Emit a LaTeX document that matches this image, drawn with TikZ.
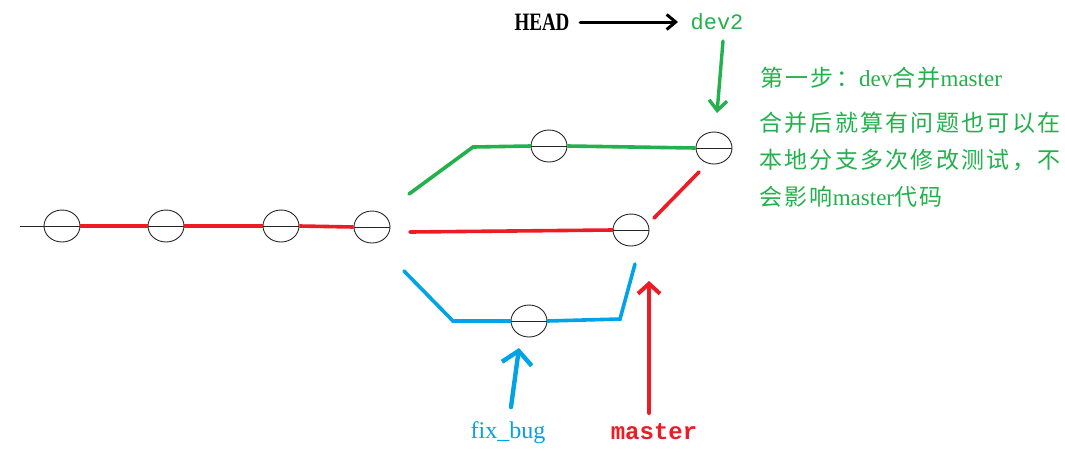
\documentclass[tikz,border=0pt]{standalone}
\usepackage{fontspec}
\setmainfont{Liberation Serif}
\newfontfamily\cjk[LetterSpace=10]{Noto Sans CJK SC}
\newfontfamily\monof{Liberation Mono}
\usetikzlibrary{arrows.meta,shapes.geometric}
\definecolor{pgreen}{RGB}{34,177,76}
\definecolor{pred}{RGB}{237,28,36}
\definecolor{pblue}{RGB}{0,162,232}
\begin{document}
\begin{tikzpicture}[x=1pt,y=-1pt,
  commit/.style={draw=black!85, line width=0.9pt, ellipse, minimum width=36pt, minimum height=32pt, inner sep=0pt},
  diam/.style={draw=black!85, line width=0.9pt},
  branch/.style={line width=3.6pt, line cap=round},
  ptr/.style={line cap=round},
  note/.style={anchor=west, text=pgreen, font=\fontsize{23}{26}\selectfont, inner sep=0pt}]
\useasboundingbox (0,0) rectangle (1065,456);
% main line
\node[commit] (n1) at (62,226) {};
\node[commit] (n2) at (166,226) {};
\node[commit] (n3) at (281,226) {};
\node[commit] (n4) at (372,227) {};
\coordinate (tail) at (20,226);
\draw[diam] (tail) -- (n1.west);
\draw[branch, pred, line cap=butt] (n1.east) -- (n2.west);
\draw[branch, pred, line cap=butt] (n2.east) -- (n3.west);
\draw[branch, pred, line cap=butt] (n3.east) -- (n4.west);
\foreach \n in {n1,n2,n3,n4} \draw[diam] (\n.west) -- (\n.east);
% green branch
\node[commit] (g1) at (549,146) {};
\node[commit] (g2) at (714,148) {};
\coordinate (gs) at (409,194);
\coordinate (gc) at (473,147);
\draw[branch, pgreen] (gs) -- (gc) -- (g1.west);
\draw[branch, pgreen, line cap=butt] (g1.east) -- (g2.west);
% red branch
\node[commit] (m) at (631,230) {};
\coordinate (rs) at (410,232);
\draw[branch, pred] (rs) -- (m.west);
\coordinate (ra) at (654,218);
\coordinate (rb) at (699,172);
\draw[branch, pred] (ra) -- (rb);
% blue branch
\node[commit] (b1) at (529,321) {};
\coordinate (bs) at (404,271);
\coordinate (bc) at (453,321);
\coordinate (bd) at (620,319);
\coordinate (be) at (635,264);
\draw[branch, pblue] (bs) -- (bc) -- (b1.west);
\draw[branch, pblue] (b1.east) -- (bd) -- (be);
\foreach \n in {g1,g2,m,b1} \draw[diam] (\n.west) -- (\n.east);
% labels
\node[font=\bfseries\fontsize{25}{25}\selectfont, xscale=0.76, inner sep=0pt] (head) at (542,22) {HEAD};
\node[font=\monof\fontsize{22}{22}\selectfont, text=pgreen, inner sep=0pt] (dev) at (717,22) {dev2};
\coordinate (ha) at (580,22);
\coordinate (hb) at (678,22);
\draw[ptr, line width=3pt, -{Straight Barb[length=9pt,width=15pt,line width=3pt]}] (ha) -- (hb);
\coordinate (gtail) at (723,41);
\coordinate (gtip) at (717,113);
\draw[ptr, pgreen, line width=3.4pt, -{Straight Barb[length=10pt,width=18pt,line width=3.4pt]}] (gtail) -- (gtip);
\node[font=\fontsize{24}{24}\selectfont, text=pblue, inner sep=0pt] (fix) at (508,433) {fix\_bug};
\node[font=\monof\bfseries\fontsize{24}{24}\selectfont, text=pred, inner sep=0pt] (mst) at (654,432) {master};
\coordinate (btail) at (511,407);
\coordinate (btip) at (519,348);
\draw[ptr, pblue, line width=4.4pt, -{Straight Barb[length=13pt,width=30pt,line width=4.4pt]}] (btail) -- (btip);
\coordinate (mtip) at (649,281);
\coordinate (mtail) at (649,413);
\draw[ptr, pred, line width=4pt, -{Straight Barb[length=10pt,width=22pt,line width=4pt]}] (mtail) -- (mtip);
% notes
\node[note] (t1) at (760,78) {{\cjk 第一步：}dev{\cjk 合并}master};
\node[note] (t2) at (759,123) {\cjk 合并后就算有问题也可以在};
\node[note] (t3) at (759,160) {\cjk 本地分支多次修改测试，不};
\node[note] (t4) at (759,197) {{\cjk 会影响}master{\cjk 代码}};
\end{tikzpicture}
\end{document}
